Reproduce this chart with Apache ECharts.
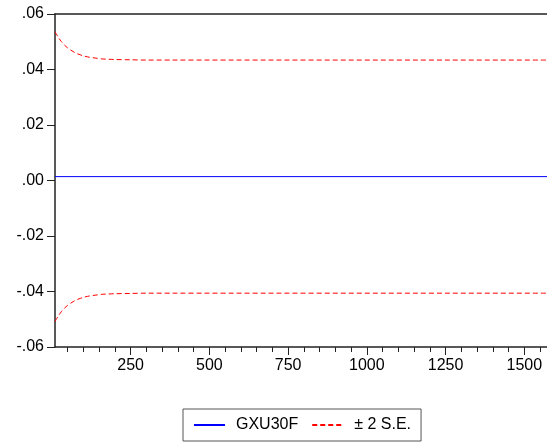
<!DOCTYPE html>
<html><head><meta charset="utf-8">
<script src="https://cdn.jsdelivr.net/npm/echarts@6/dist/echarts.min.js"></script>
<style>html,body{margin:0;padding:0;background:#fff}#c{width:547px;height:445px}</style>
</head><body><div id="c"></div>
<script>
const forecastX = [10, 1572];
const forecastY = [0.0014, 0.0014];
const bandX = [10, 20, 30, 40, 50, 60, 70, 80, 90, 100, 120, 140, 160, 180, 200, 250, 300, 1572];
const upperBand = [0.0536, 0.0517, 0.0501, 0.0488, 0.0478, 0.0470, 0.0463, 0.0457, 0.0453, 0.0449, 0.0444, 0.0441, 0.0438, 0.0437, 0.0436, 0.0435, 0.0434, 0.0434];
const lowerBand = [-0.0508, -0.0489, -0.0473, -0.0460, -0.0450, -0.0442, -0.0435, -0.0429, -0.0425, -0.0421, -0.0416, -0.0413, -0.0410, -0.0409, -0.0408, -0.0407, -0.0406, -0.0406];
const xMajorTicks = [250, 500, 750, 1000, 1250, 1500];
const xMinorTicks = [50,100,150,200,250,300,350,400,450,500,550,600,650,700,750,800,850,900,950,1000,1050,1100,1150,1200,1250,1300,1350,1400,1450,1500,1550];
const seriesNames = ['GXU30F', '± 2 S.E.'];

const zip = (xs, ys) => xs.map((x, i) => [x, ys[i]]);
const font = 'Liberation Sans, Arial, sans-serif';
const chart = echarts.init(document.getElementById('c'));
chart.setOption({
  animation: false,
  backgroundColor: '#fff',
  grid: { left: 55, top: 14, right: 0, bottom: 98 },
  legend: {
    data: seriesNames,
    left: 183, top: 409,
    padding: [8, 10, 8, 10],
    borderColor: '#555', borderWidth: 1,
    itemWidth: 31, itemHeight: 14, itemGap: 13,
    itemStyle: { opacity: 0 },
    textStyle: { fontFamily: font, fontSize: 16, color: '#000', padding: [0, 0, 0, 6] }
  },
  xAxis: [
    { type: 'value', position: 'bottom', min: 10, max: 1572,
      axisLine: { show: true, onZero: false, lineStyle: { color: '#222', width: 1.5 } },
      axisTick: { show: true, customValues: xMinorTicks, length: 5, lineStyle: { color: '#222' } },
      axisLabel: { show: false }, splitLine: { show: false } },
    { type: 'value', position: 'bottom', min: 10, max: 1572,
      axisLine: { show: false, onZero: false },
      axisTick: { show: true, customValues: xMajorTicks, length: 8, lineStyle: { color: '#222' } },
      axisLabel: { show: true, customValues: xMajorTicks, margin: 11, fontFamily: font, fontSize: 16, color: '#000',
        formatter: v => String(v) },
      splitLine: { show: false } },
    { type: 'value', position: 'top', min: 10, max: 1572,
      axisLine: { show: true, onZero: false, lineStyle: { color: '#222', width: 1.5 } },
      axisTick: { show: false }, axisLabel: { show: false }, splitLine: { show: false } }
  ],
  yAxis: {
    type: 'value', min: -0.06, max: 0.06, interval: 0.02,
    axisLine: { show: true, onZero: false, lineStyle: { color: '#222', width: 1.5 } },
    axisTick: { show: true, length: 8, lineStyle: { color: '#222' } },
    axisLabel: { margin: 11, fontFamily: font, fontSize: 16, color: '#000',
      formatter: v => Math.abs(v) < 1e-9 ? '.00' : v.toFixed(2).replace('0.', '.') },
    splitLine: { show: false }
  },
  series: [
    { name: seriesNames[0], type: 'line', xAxisIndex: 0, data: zip(forecastX, forecastY), symbol: 'none',
      lineStyle: { color: '#0000ff', width: 1 }, itemStyle: { color: '#0000ff' } },
    { name: seriesNames[1], type: 'line', xAxisIndex: 0, data: zip(bandX, upperBand), symbol: 'none', smooth: 0.3,
      lineStyle: { color: '#ff0000', width: 1, type: [5, 3] }, itemStyle: { color: '#ff0000' } },
    { name: seriesNames[1], type: 'line', xAxisIndex: 0, data: zip(bandX, lowerBand), symbol: 'none', smooth: 0.3,
      lineStyle: { color: '#ff0000', width: 1, type: [5, 3] }, itemStyle: { color: '#ff0000' } }
  ]
});
</script></body></html>
